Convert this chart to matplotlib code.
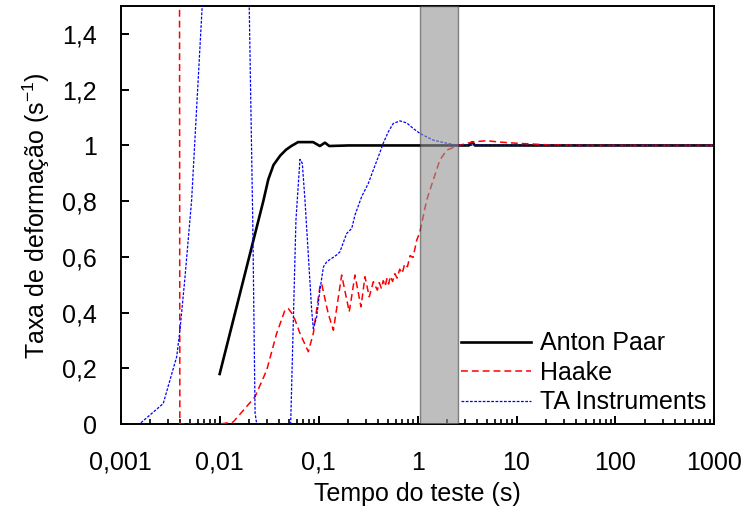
import numpy as np
import matplotlib
matplotlib.use('Agg')
import matplotlib.pyplot as plt
from matplotlib.ticker import FixedLocator, LogLocator, NullFormatter, FixedFormatter

plt.rcParams.update({'font.family': ['Liberation Sans', 'DejaVu Sans'],
                     'font.size': 18,
                     'mathtext.fontset': 'custom',
                     'mathtext.rm': 'Liberation Sans'})

#%% Data
#-----------------------------------------------------------------------------------------------------------------------
# Anton Paar
ap_t = [0.01, 0.0276, 0.031, 0.035, 0.041, 0.047, 0.053, 0.062, 0.088, 0.103, 0.116, 0.128, 0.2, 1.0,
        3.3, 3.57, 3.8, 10, 100, 1000]
ap_g = [0.18, 0.80, 0.878, 0.93, 0.964, 0.985, 0.998, 1.012, 1.012, 0.998, 1.01, 0.998, 1.0, 1.0,
        1.0, 1.012, 1.0, 1.0, 1.0, 1.0]

# Haake
hk_t = [0.00393, 0.00396, 0.0099, 0.01373, 0.02275, 0.0299, 0.0377, 0.0457, 0.0493, 0.0555, 0.0648, 0.0787,
        0.0884, 0.103, 0.107, 0.125, 0.141, 0.171, 0.204, 0.233, 0.268, 0.294, 0.325, 0.357, 0.392,
        0.41, 0.43, 0.45, 0.47, 0.49, 0.51, 0.53, 0.56, 0.59, 0.62, 0.66, 0.70, 0.74, 0.79, 0.84, 0.90,
        0.98, 1.057, 1.236, 1.44, 1.68, 1.97, 2.48, 3.65, 4.99, 6.8, 10.0, 21.2, 50, 1000]
hk_g = [1.6, 0.0, 0.0, 0.008, 0.098, 0.194, 0.326, 0.409, 0.415, 0.391, 0.326, 0.260,
        0.326, 0.493, 0.506, 0.397, 0.337, 0.535, 0.403, 0.535, 0.421, 0.529, 0.457, 0.511, 0.481,
        0.508, 0.488, 0.515, 0.495, 0.522, 0.503, 0.530, 0.512, 0.540, 0.524, 0.556, 0.541, 0.575, 0.565,
        0.605, 0.598, 0.66, 0.69, 0.804, 0.876, 0.948, 0.983, 0.998, 1.013, 1.017, 1.012, 1.008, 1.002, 1.0, 1.0]

# TA Instruments
ta_t = [0.0016, 0.00269, 0.00368, 0.00397, 0.00447, 0.00521, 0.00667, 0.0068, 0.0195, 0.0199, 0.0216, 0.0228,
        0.0237, 0.0522, 0.059, 0.0648, 0.0684, 0.0728, 0.0851, 0.0884, 0.0956, 0.103, 0.112, 0.121, 0.152,
        0.164, 0.192, 0.216, 0.233, 0.272, 0.318, 0.357, 0.401, 0.450, 0.506, 0.568, 0.664, 0.776, 0.904,
        1.057, 1.44, 1.97, 2.48, 10, 1000]
ta_g = [0.005, 0.074, 0.242, 0.337, 0.529, 0.804, 1.504, 1.55, 1.55, 1.498, 0.732, 0.04,
        0.0, 0.0, 0.732, 0.950, 0.936, 0.804, 0.409, 0.343, 0.385, 0.481, 0.565, 0.583, 0.607,
        0.618, 0.684, 0.702, 0.750, 0.816, 0.864, 0.912, 0.959, 1.008, 1.049, 1.079, 1.088, 1.081, 1.061,
        1.043, 1.019, 1.008, 1.001, 1.0, 1.0]

# shaded interval
band_t = [1.05, 2.55]

x_ticks = [0.001, 0.01, 0.1, 1, 10, 100, 1000]
x_labels = ['0,001', '0,01', '0,1', '1', '10', '100', '1000']
y_ticks = [0, 0.2, 0.4, 0.6, 0.8, 1.0, 1.2, 1.4]
y_labels = ['0', '0,2', '0,4', '0,6', '0,8', '1', '1,2', '1,4']

#%% Plotting
fig = plt.figure(figsize=(7.45, 5.08), dpi=100)
ax = fig.add_axes([0.162, 0.165, 0.797, 0.823])

ax.plot(ap_t, ap_g, color='black', lw=1.9, label='Anton Paar', zorder=3)
ax.plot(hk_t, hk_g, color='#ff0000', lw=1.1, ls=(0, (4.5, 2.6)), label='Haake', zorder=3)
ax.plot(ta_t, ta_g, color='#0000ff', lw=0.9, ls=(0, (2.2, 1.2)), label='TA Instruments', zorder=3)
ax.axvspan(band_t[0], band_t[1], facecolor=(0.575, 0.575, 0.575, 0.6),
           edgecolor=(0.25, 0.25, 0.25, 0.6), lw=1.0, zorder=4)

ax.set_xscale('log')
ax.set_xlim(0.001, 1000)
ax.set_ylim(0, 1.5)
ax.xaxis.set_major_locator(FixedLocator(x_ticks))
ax.xaxis.set_major_formatter(FixedFormatter(x_labels))
ax.xaxis.set_minor_locator(LogLocator(base=10, subs=np.arange(2, 10), numticks=20))
ax.xaxis.set_minor_formatter(NullFormatter())
ax.yaxis.set_major_locator(FixedLocator(y_ticks))
ax.yaxis.set_major_formatter(FixedFormatter(y_labels))

ax.tick_params(which='major', direction='in', length=5.5, width=1.4)
ax.tick_params(which='minor', direction='in', length=3.5, width=1.2)
ax.tick_params(axis='x', which='both', pad=19)
ax.tick_params(axis='y', pad=17)
for s in ax.spines.values():
    s.set_linewidth(1.4)

ax.set_xlabel('Tempo do teste (s)', labelpad=5)
ax.set_ylabel(r'Taxa de deformação (s$^{\mathregular{-1}}$)', labelpad=7)

ax.legend(loc='upper left', bbox_to_anchor=(0.573, 0.222), frameon=False, borderpad=0,
          borderaxespad=0, handlelength=2.8, handletextpad=0.37, labelspacing=0.22)

plt.savefig('out.png', dpi=100)
